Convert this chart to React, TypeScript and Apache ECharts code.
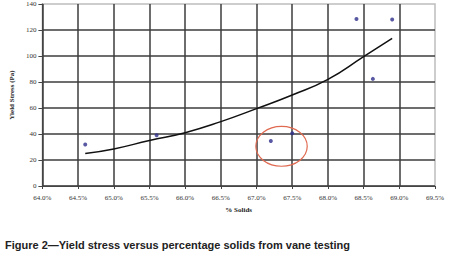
import React, { useEffect, useRef } from "react";
import * as echarts from "echarts";

const titleText = "Figure 2\u2014Yield stress versus percentage solids from vane testing";
const xAxisName = "% Solids";
const yAxisName = "Yield Stress (Pa)";

const xMin = 64;
const xMax = 69.5;
const yMin = 0;
const yMax = 140;

const pointsX = [64.6, 65.6, 67.2, 67.5, 68.4, 68.63, 68.9];
const pointsY = [32, 39, 34.6, 40.5, 128.5, 82.4, 128];

const trendX = [64.6, 65.0, 65.5, 66.0, 66.5, 67.0, 67.5, 68.0, 68.5, 68.9];
const trendY = [25, 28.5, 35, 41, 49.5, 59.5, 70, 82, 99.5, 113.5];

// highlight ellipse: centre x, centre y, radius x, radius y (data units)
const highlight = [[67.35, 30.5, 0.36, 15.3]];

export default function App() {
  const ref = useRef<HTMLDivElement>(null);
  useEffect(() => {
    if (!ref.current) return;
    const chart = echarts.init(ref.current, undefined, { renderer: "svg" });
    const labelFont = {
      fontFamily: "Liberation Serif",
      fontSize: 7,
      color: "#333",
    };
    chart.setOption({
      animation: false,
      backgroundColor: "#ffffff",
      title: {
        text: titleText,
        left: 5,
        top: 239,
        padding: 0,
        textStyle: {
          fontFamily: "Liberation Sans",
          fontSize: 11,
          fontWeight: "bold",
          color: "#222",
        },
      },
      grid: {
        left: 33,
        right: 17,
        top: 4,
        bottom: 76,
        show: true,
        borderColor: "#bdbdbd",
        borderWidth: 1.5,
      },
      xAxis: {
        type: "value",
        min: xMin,
        max: xMax,
        interval: 0.5,
        name: xAxisName,
        nameLocation: "middle",
        nameGap: 20,
        nameTextStyle: { ...labelFont, fontWeight: "bold", color: "#222" },
        axisLine: { show: true, lineStyle: { color: "#444", width: 1 } },
        axisTick: { show: true, length: 3, lineStyle: { color: "#444" } },
        axisLabel: {
          ...labelFont,
          margin: 8,
          formatter: (v: number) => v.toFixed(1) + "%",
        },
        splitLine: {
          show: true,
          showMaxLine: false,
          lineStyle: { color: "#3c3c3c", width: 1.5, opacity: 1 },
        },
      },
      yAxis: {
        type: "value",
        min: yMin,
        max: yMax,
        interval: 20,
        name: yAxisName,
        nameLocation: "middle",
        nameGap: 20,
        nameRotate: 90,
        nameTextStyle: { ...labelFont, fontWeight: "bold", color: "#222" },
        axisLine: { show: true, lineStyle: { color: "#444", width: 1 } },
        axisTick: { show: true, length: 4, lineStyle: { color: "#444" } },
        axisLabel: { ...labelFont, margin: 6 },
        splitLine: {
          show: true,
          showMaxLine: false,
          lineStyle: { color: "#3c3c3c", width: 1.5, opacity: 1 },
        },
      },
      series: [
        {
          type: "line",
          data: trendX.map((x, i) => [x, trendY[i]]),
          smooth: true,
          symbol: "none",
          lineStyle: { color: "#111", width: 1.5 },
          z: 3,
        },
        {
          type: "scatter",
          data: pointsX.map((x, i) => [x, pointsY[i]]),
          symbol: "circle",
          symbolSize: 4,
          itemStyle: { color: "#2e2e8c" },
          z: 4,
        },
        {
          type: "custom",
          encode: { x: 0, y: 1 },
          data: highlight,
          z: 5,
          renderItem: (params: any, api: any) => {
            const c = api.coord([api.value(0), api.value(1)]);
            const s = api.size([api.value(2), api.value(3)]);
            return {
              type: "ellipse",
              shape: { cx: c[0], cy: c[1], rx: s[0], ry: s[1] },
              style: { fill: "none", stroke: "#e06a50", lineWidth: 1.2 },
            };
          },
        },
      ],
    });
    return () => chart.dispose();
  }, []);
  return (
    <div
      ref={ref}
      style={{
        position: "fixed",
        left: 0,
        top: 0,
        width: 452,
        height: 262,
        background: "#fff",
      }}
    />
  );
}
